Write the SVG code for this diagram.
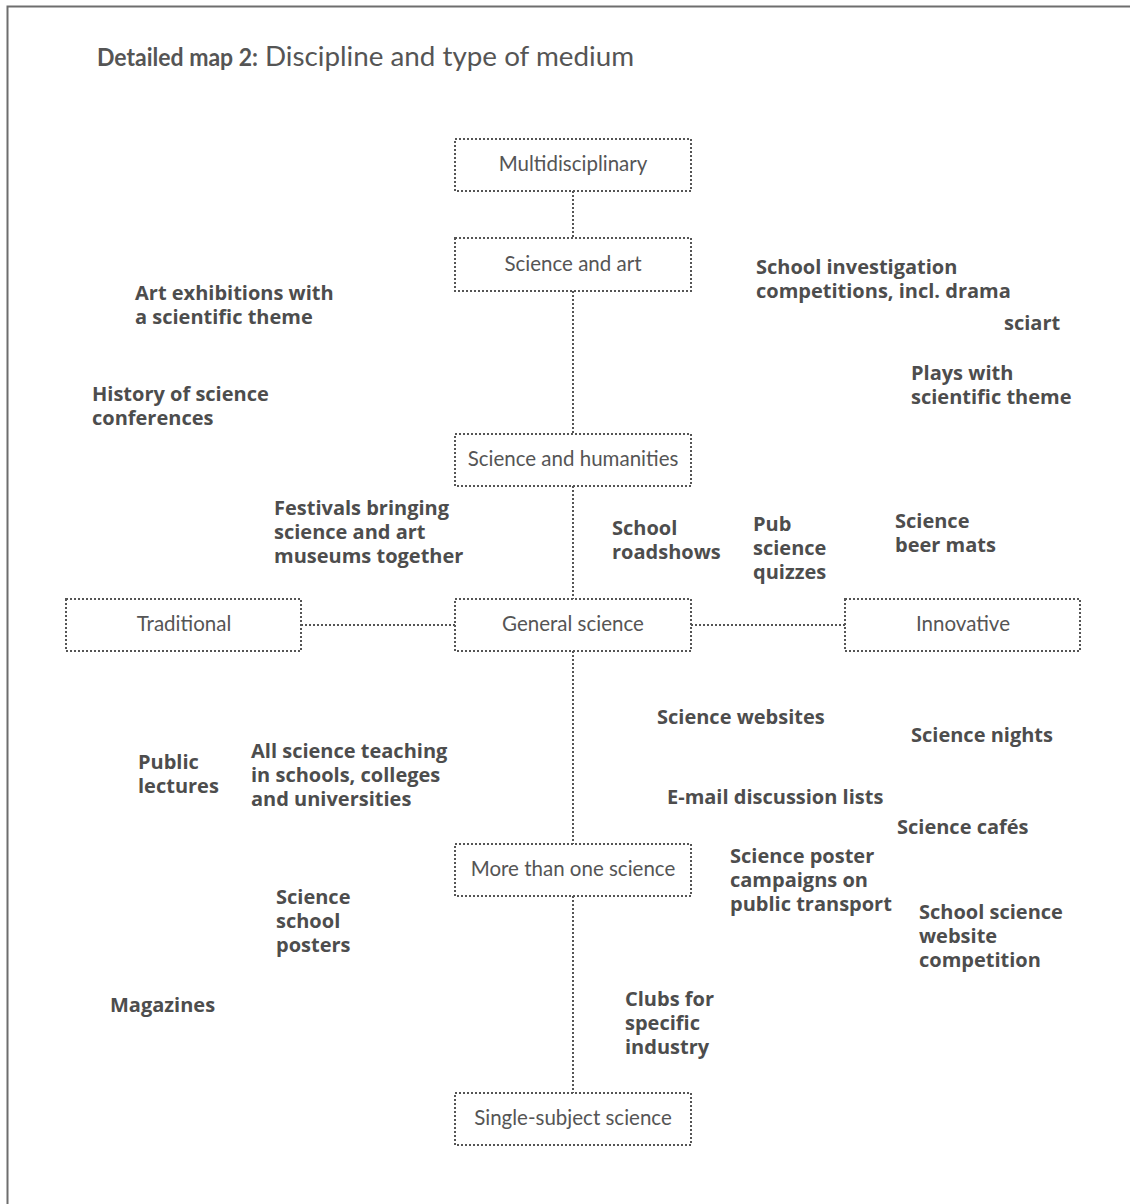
<svg xmlns="http://www.w3.org/2000/svg" width="1130" height="1204" viewBox="0 0 1130 1204">
  <style>
    .frame { fill: none; stroke: #6e6e6e; stroke-width: 2; }
    .box { fill: none; stroke: #555555; stroke-width: 2; stroke-dasharray: 2 2; }
    .link { fill: none; stroke: #555555; stroke-width: 2; stroke-dasharray: 2 2; }
    .lbl { font-family: Lato, "Liberation Sans", sans-serif; font-size: 20.5px; fill: #555555; text-anchor: middle; }
    .note { font-family: "Open Sans", "Liberation Sans", sans-serif; font-size: 20px; font-weight: bold; fill: #4d4d4d; }
    .title-b { font-family: Lato, "Liberation Sans", sans-serif; font-size: 25px; font-weight: bold; fill: #555555; }
    .title-r { font-family: Lato, "Liberation Sans", sans-serif; font-size: 27px; fill: #555555; }
  </style>

  <!-- page frame (open on the right and bottom) -->
  <path class="frame" d="M7.5,1204 V6.5 H1130"/>

  <text class="title-b" x="97" y="66" textLength="161" lengthAdjust="spacingAndGlyphs">Detailed map 2:</text>
  <text class="title-r" x="265" y="66" textLength="369" lengthAdjust="spacingAndGlyphs">Discipline and type of medium</text>

  <!-- connectors -->
  <g id="connectors">
    <line class="link" x1="573" y1="191" x2="573" y2="238"/>
    <line class="link" x1="573" y1="291" x2="573" y2="434"/>
    <line class="link" x1="573" y1="486" x2="573" y2="599"/>
    <line class="link" x1="573" y1="651" x2="573" y2="844"/>
    <line class="link" x1="573" y1="896" x2="573" y2="1093"/>
    <line class="link" x1="301" y1="625" x2="455" y2="625"/>
    <line class="link" x1="691" y1="625" x2="845" y2="625"/>
  </g>

  <!-- nodes -->
  <g id="multidisciplinary">
    <rect class="box" x="455" y="139" width="236" height="52"/>
    <text class="lbl" x="573" y="171">Multidisciplinary</text>
  </g>
  <g id="science-and-art">
    <rect class="box" x="455" y="238" width="236" height="53"/>
    <text class="lbl" x="573" y="271">Science and art</text>
  </g>
  <g id="science-and-humanities">
    <rect class="box" x="455" y="434" width="236" height="52"/>
    <text class="lbl" x="573" y="466">Science and humanities</text>
  </g>
  <g id="general-science">
    <rect class="box" x="455" y="599" width="236" height="52"/>
    <text class="lbl" x="573" y="631">General science</text>
  </g>
  <g id="traditional">
    <rect class="box" x="66" y="599" width="235" height="52"/>
    <text class="lbl" x="184" y="631">Traditional</text>
  </g>
  <g id="innovative">
    <rect class="box" x="845" y="599" width="235" height="52"/>
    <text class="lbl" x="963" y="631">Innovative</text>
  </g>
  <g id="more-than-one-science">
    <rect class="box" x="455" y="844" width="236" height="52"/>
    <text class="lbl" x="573" y="876">More than one science</text>
  </g>
  <g id="single-subject-science">
    <rect class="box" x="455" y="1093" width="236" height="52"/>
    <text class="lbl" x="573" y="1125">Single-subject science</text>
  </g>

  <!-- examples placed on the map -->
  <g id="examples">
    <text class="note" x="135" y="300">Art exhibitions with<tspan x="135" dy="24">a scientific theme</tspan></text>
    <text class="note" x="92" y="401">History of science<tspan x="92" dy="24">conferences</tspan></text>
    <text class="note" x="756" y="274">School investigation<tspan x="756" dy="24">competitions, incl. drama</tspan></text>
    <text class="note" x="1004" y="330">sciart</text>
    <text class="note" x="911" y="380">Plays with<tspan x="911" dy="24">scientific theme</tspan></text>
    <text class="note" x="274" y="515">Festivals bringing<tspan x="274" dy="24">science and art</tspan><tspan x="274" dy="24">museums together</tspan></text>
    <text class="note" x="612" y="535">School<tspan x="612" dy="24">roadshows</tspan></text>
    <text class="note" x="753" y="531">Pub<tspan x="753" dy="24">science</tspan><tspan x="753" dy="24">quizzes</tspan></text>
    <text class="note" x="895" y="528">Science<tspan x="895" dy="24">beer mats</tspan></text>
    <text class="note" x="657" y="724">Science websites</text>
    <text class="note" x="911" y="742">Science nights</text>
    <text class="note" x="138" y="769">Public<tspan x="138" dy="24">lectures</tspan></text>
    <text class="note" x="251" y="758">All science teaching<tspan x="251" dy="24">in schools, colleges</tspan><tspan x="251" dy="24">and universities</tspan></text>
    <text class="note" x="667" y="804">E-mail discussion lists</text>
    <text class="note" x="897" y="834">Science cafés</text>
    <text class="note" x="730" y="863">Science poster<tspan x="730" dy="24">campaigns on</tspan><tspan x="730" dy="24">public transport</tspan></text>
    <text class="note" x="919" y="919">School science<tspan x="919" dy="24">website</tspan><tspan x="919" dy="24">competition</tspan></text>
    <text class="note" x="276" y="904">Science<tspan x="276" dy="24">school</tspan><tspan x="276" dy="24">posters</tspan></text>
    <text class="note" x="110" y="1012">Magazines</text>
    <text class="note" x="625" y="1006">Clubs for<tspan x="625" dy="24">specific</tspan><tspan x="625" dy="24">industry</tspan></text>
  </g>
</svg>
